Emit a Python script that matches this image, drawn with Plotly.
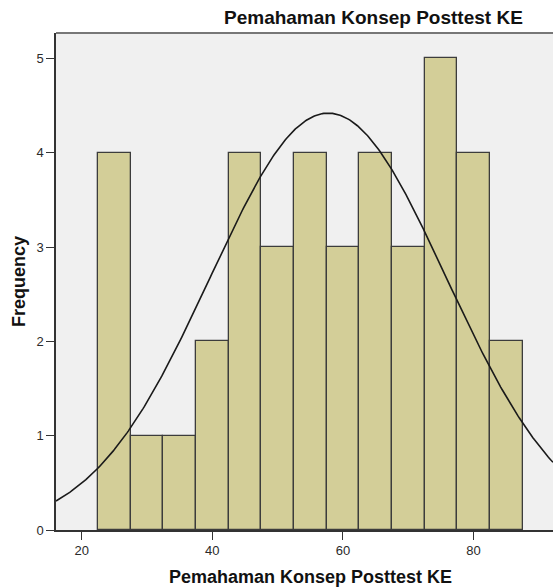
import numpy as np
import plotly.graph_objects as go

# Histogram data (bin midpoints, width 5)
bin_centers = [25, 30, 35, 40, 45, 50, 55, 60, 65, 70, 75, 80, 85]
frequencies = [4, 1, 1, 2, 4, 3, 4, 3, 4, 3, 5, 4, 2]
bin_width = 5

# Normal curve parameters (as reported by SPSS)
mean_value = 57.75
std_dev = 18.05
n_total = sum(frequencies)

x_ticks = [20, 40, 60, 80]
y_ticks = [0, 1, 2, 3, 4, 5]

x_range = [16.07, 92.17]
y_range = [0, 5.27]

xs = np.linspace(x_range[0], x_range[1], 400)
ys = n_total * bin_width / (std_dev * np.sqrt(2 * np.pi)) * np.exp(-((xs - mean_value) ** 2) / (2 * std_dev ** 2))

fig = go.Figure()
fig.add_trace(go.Bar(
    x=bin_centers, y=frequencies, width=bin_width,
    marker=dict(color="#d3ce98", line=dict(color="#3c3c3c", width=1.3)),
    hoverinfo="x+y", showlegend=False,
))
fig.add_trace(go.Scatter(
    x=xs, y=ys, mode="lines",
    line=dict(color="#1a1a1a", width=1.6),
    hoverinfo="skip", showlegend=False,
))

font_family = "Liberation Sans, Arial, sans-serif"
W, H = 553, 587
L, R, T, B = 56, 0, 33, 57
pw, ph = W - L - R, H - T - B

def px_x(px):
    return (px - L) / pw

def px_y(py):
    return (H - B - py) / ph

fig.update_layout(
    width=W, height=H,
    margin=dict(l=L, r=R, t=T, b=B, pad=0),
    paper_bgcolor="white",
    plot_bgcolor="#f0f0f0",
    bargap=0,
    font=dict(family=font_family, size=13, color="#222222"),
    xaxis=dict(
        range=x_range, tickvals=x_ticks, ticks="outside", ticklen=8,
        tickcolor="#333333", tickwidth=1.2, showgrid=False, zeroline=False,
        showline=True, linecolor="#333333", linewidth=1.5,
        tickfont=dict(size=13, color="#2a2a2a"),
    ),
    yaxis=dict(
        range=y_range, tickvals=y_ticks, ticks="outside", ticklen=8,
        tickcolor="#333333", tickwidth=1.2, showgrid=False, zeroline=False,
        showline=True, linecolor="#333333", linewidth=1.5,
        tickfont=dict(size=13, color="#2a2a2a"),
    ),
    shapes=[dict(type="line", xref="paper", yref="paper", x0=0, x1=1, y0=1, y1=1,
                 line=dict(color="#777777", width=2))],
    annotations=[
        dict(text="<b>Pemahaman Konsep Posttest KE</b>", xref="paper", yref="paper",
             x=px_x(373), y=px_y(18), xanchor="center", yanchor="middle",
             showarrow=False, font=dict(size=19, color="#111111")),
        dict(text="<b>Pemahaman Konsep Posttest KE</b>", xref="paper", yref="paper",
             x=px_x(310), y=px_y(577), xanchor="center", yanchor="middle",
             showarrow=False, font=dict(size=18, color="#111111")),
        dict(text="<b>Frequency</b>", xref="paper", yref="paper",
             x=px_x(19), y=px_y(282), xanchor="center", yanchor="middle",
             textangle=-90, showarrow=False, font=dict(size=18, color="#111111")),
    ],
)

fig.write_html("out.html", config={"displayModeBar": False},
               post_script="document.body.style.margin='0';document.body.style.overflow='hidden';")
